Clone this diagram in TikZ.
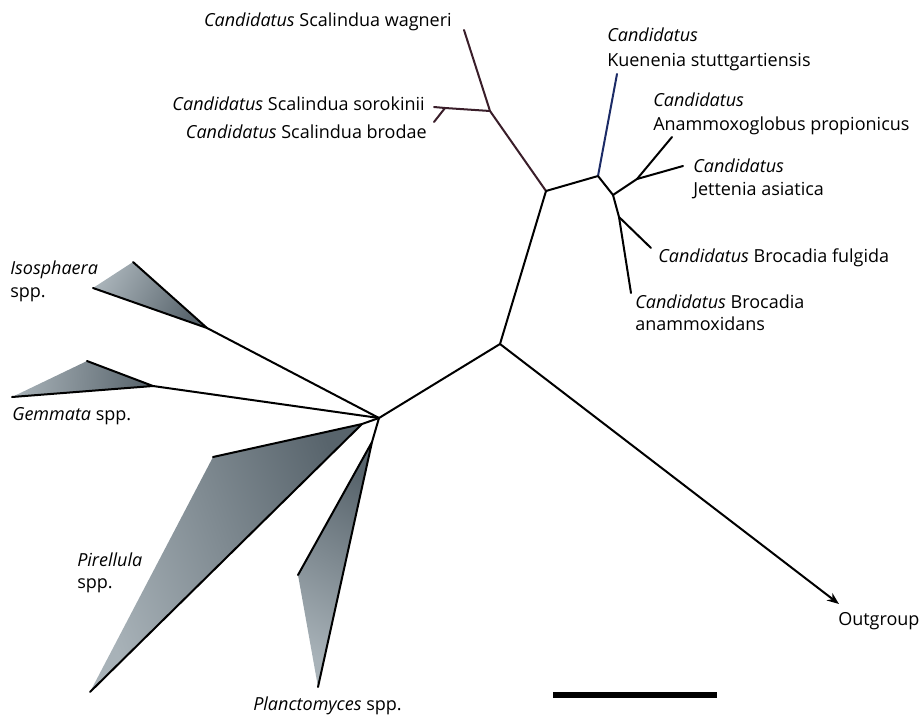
\documentclass[tikz,border=0pt]{standalone}
\usepackage{fontspec}
\setmainfont{Open Sans}
\usepackage{tikz}
\usetikzlibrary{arrows.meta}
\definecolor{sbrown}{HTML}{3A1E2A}
\definecolor{knavy}{HTML}{1C2B66}
\definecolor{cladelight}{HTML}{A8B2B8}
\definecolor{cladedark}{HTML}{58646C}

\begin{document}
\begin{tikzpicture}[x=0.75pt, y=-0.75pt,
  branch/.style={line width=1.5pt, line cap=round, line join=round},
  lbl/.style={font=\fontsize{13.5}{16}\selectfont, inner sep=0pt},
  clade/.style={top color=cladelight, bottom color=cladedark}]
\useasboundingbox (0,0) rectangle (923,717);
% internal nodes
\coordinate (root) at (500,344);
\coordinate (anx) at (546,191);
\coordinate (sca) at (490,111);
\coordinate (sbr) at (445,108);
\coordinate (kbr) at (598,176);
\coordinate (bro) at (613,195);
\coordinate (jet) at (637,179);
\coordinate (brf) at (619,217);
\coordinate (pla) at (379,418);
% tips
\coordinate (wag) at (464,30);
\coordinate (sor) at (434,107);
\coordinate (brd) at (434,122);
\coordinate (kue) at (617,74);
\coordinate (amx) at (672,137);
\coordinate (jas) at (683,166);
\coordinate (ful) at (651,248);
\coordinate (amd) at (631,293);
\coordinate (out) at (839,604);
% clade wedges
\coordinate (iso) at (207,328); \coordinate (isoa) at (133,262); \coordinate (isob) at (93,288);
\coordinate (gem) at (153,386); \coordinate (gema) at (87,361); \coordinate (gemb) at (12,397);
\coordinate (pir) at (362,424); \coordinate (pira) at (213,457); \coordinate (pirb) at (90,692);
\coordinate (plc) at (372,442); \coordinate (plca) at (298,575); \coordinate (plcb) at (318,687);

\shade[clade, shading angle=60] (iso) -- (isoa) -- (isob) -- cycle;
\shade[clade, shading angle=86] (gem) -- (gema) -- (gemb) -- cycle;
\shade[clade, shading angle=110] (pir) -- (pira) -- (pirb) -- cycle;
\shade[clade, shading angle=150] (plc) -- (plca) -- (plcb) -- cycle;
\draw[branch] (isoa) -- (iso) -- (isob);
\draw[branch] (gema) -- (gem) -- (gemb);
\draw[branch] (pira) -- (pir) -- (pirb);
\draw[branch] (plca) -- (plc) -- (plcb);

\draw[branch] (pla) -- (iso);
\draw[branch] (pla) -- (gem);
\draw[branch] (pla) -- (pir);
\draw[branch] (pla) -- (plc);
\draw[branch] (pla) -- (root);
\draw[branch] (root) -- (anx);
\draw[branch, -{Stealth[length=9pt, width=7pt]}] (root) -- (out);

\draw[branch, sbrown] (anx) -- (sca);
\draw[branch, sbrown] (sca) -- (wag);
\draw[branch, sbrown] (sca) -- (sbr);
\draw[branch, sbrown] (sbr) -- (sor);
\draw[branch, sbrown] (sbr) -- (brd);

\draw[branch] (anx) -- (kbr);
\draw[branch, knavy] (kbr) -- (kue);
\draw[branch] (kbr) -- (bro);
\draw[branch] (bro) -- (jet);
\draw[branch] (jet) -- (amx);
\draw[branch] (jet) -- (jas);
\draw[branch] (bro) -- (brf);
\draw[branch] (brf) -- (ful);
\draw[branch] (brf) -- (amd);

\node[lbl, anchor=base east] (lwag) at (452,27) {\textit{Candidatus} Scalindua wagneri};
\node[lbl, anchor=base east] (lsor) at (425,110) {\textit{Candidatus} Scalindua sorokinii};
\node[lbl, anchor=base east] (lbrd) at (427,138) {\textit{Candidatus} Scalindua brodae};
\node[lbl, anchor=base west] (lkue) at (607,42) {\textit{Candidatus}};
\node[lbl, anchor=base west] (lkue2) at (607,66) {Kuenenia stuttgartiensis};
\node[lbl, anchor=base west] (lamx) at (653,106) {\textit{Candidatus}};
\node[lbl, anchor=base west] (lamx2) at (653,130) {Anammoxoglobus propionicus};
\node[lbl, anchor=base west] (ljas) at (693,172) {\textit{Candidatus}};
\node[lbl, anchor=base west] (ljas2) at (693,195) {Jettenia asiatica};
\node[lbl, anchor=base west] (lful) at (658,262) {\textit{Candidatus} Brocadia fulgida};
\node[lbl, anchor=base west] (lamd) at (635,308) {\textit{Candidatus} Brocadia};
\node[lbl, anchor=base west] (lamd2) at (635,330) {anammoxidans};
\node[lbl, anchor=base west] (liso) at (10,274) {\textit{Isosphaera}};
\node[lbl, anchor=base west] (liso2) at (10,297) {spp.};
\node[lbl, anchor=base west] (lgem) at (12,420) {\textit{Gemmata} spp.};
\node[lbl, anchor=base west] (lpir) at (77,566) {\textit{Pirellula}};
\node[lbl, anchor=base west] (lpir2) at (77,588) {spp.};
\node[lbl, anchor=base west] (lplc) at (253,710) {\textit{Planctomyces} spp.};
\node[lbl, anchor=base west] (lout) at (838,625) {Outgroup};

\fill (553,692) rectangle (717,698);
\end{tikzpicture}
\end{document}
